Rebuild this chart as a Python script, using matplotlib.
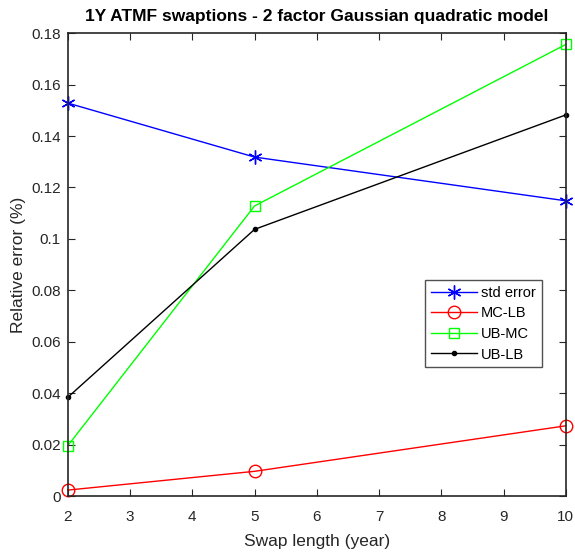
import matplotlib
matplotlib.use('Agg')
import matplotlib.pyplot as plt

plt.rcParams['font.family'] = ['Liberation Sans', 'DejaVu Sans']

# swap length (years)
swap_len = [2, 5, 10]
std_error = [0.1528, 0.1318, 0.1148]
mc_lb = [0.0023, 0.0096, 0.0273]
ub_mc = [0.0196, 0.1128, 0.1756]
ub_lb = [0.0384, 0.1037, 0.1482]

fig = plt.figure(figsize=(5.75, 5.57), dpi=100)
ax = fig.add_axes([0.118, 0.1095, 0.866, 0.831])

ax.plot(swap_len, std_error, color='#0000ff', marker=(6, 2, 0), markersize=10, lw=1, label='std error', clip_on=False)
ax.plot(swap_len, mc_lb, color='#ff0000', marker='o', markersize=9, mfc='none', lw=1, label='MC-LB', clip_on=False)
ax.plot(swap_len, ub_mc, color='#00ff00', marker='s', markersize=7, mfc='none', lw=1, label='UB-MC', clip_on=False)
ax.plot(swap_len, ub_lb, color='black', marker='.', markersize=6, lw=1, label='UB-LB', clip_on=False)

ax.set_xlim(2, 10)
ax.set_ylim(0, 0.18)
ax.set_xticks(range(2, 11))
ax.set_yticks([0, 0.02, 0.04, 0.06, 0.08, 0.1, 0.12, 0.14, 0.16, 0.18])
ax.set_yticklabels(['0', '0.02', '0.04', '0.06', '0.08', '0.1', '0.12', '0.14', '0.16', '0.18'])
ax.tick_params(direction='in', top=True, right=True, labelsize=11, colors='#262626', length=5)
ax.tick_params(axis='x', pad=10)
ax.tick_params(axis='y', pad=5)
for s in ax.spines.values():
    s.set_color('#262626')
    s.set_linewidth(1.2)

ax.set_xlabel('Swap length (year)', fontsize=12.5, color='#262626', labelpad=7)
ax.set_ylabel('Relative error (%)', fontsize=12.5, color='#262626', labelpad=4)
ax.set_title('1Y ATMF swaptions - 2 factor Gaussian quadratic model', fontsize=12.5, fontweight='bold', pad=9)

leg = ax.legend(loc='upper left', bbox_to_anchor=(0.717, 0.4665), fontsize=10.5, fancybox=False,
                edgecolor='#262626', borderpad=0.4, labelspacing=0.45, handlelength=3.2,
                handletextpad=0.25, borderaxespad=0)
leg.get_frame().set_linewidth(1.0)

fig.savefig('out.png', dpi=100)
